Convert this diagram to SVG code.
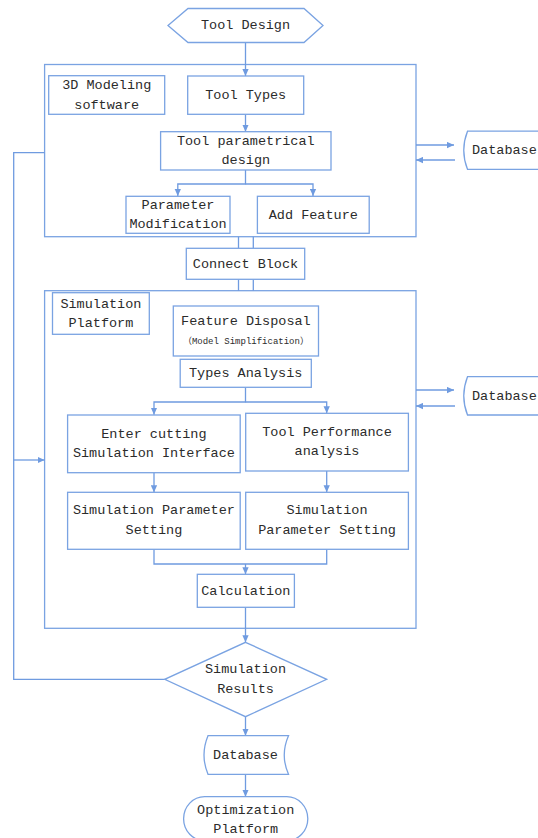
<svg xmlns="http://www.w3.org/2000/svg" width="538" height="838" viewBox="0 0 538 838">
<defs>
<marker id="ah" viewBox="0 0 10 10" refX="10" refY="5" markerWidth="7" markerHeight="7" orient="auto" markerUnits="userSpaceOnUse">
<path d="M0,0.5 L10,5 L0,9.5 z" fill="#6f9be0"/>
</marker>
<style>
.b{fill:#fff;stroke:#7aa3e2;stroke-width:1.3}
.c{fill:none;stroke:#6f9be0;stroke-width:1.3}
.a{marker-end:url(#ah)}
text{font-family:"Liberation Mono","Noto Sans CJK SC",monospace;font-size:13.5px;fill:#2b2b2b;text-anchor:middle;dominant-baseline:central}
.s{font-size:9px}
</style>
</defs>
<rect width="538" height="838" fill="#fff"/>
<g id="group1"><rect class="b" x="44.6" y="64.5" width="371.4" height="172.2"/></g>
<g id="group2"><rect class="b" x="44.6" y="290.7" width="371.4" height="337.6"/></g>
<g id="connectors">
<path class="c a" d="M245.5,42.5 V76"/>
<path class="c a" d="M245.5,114.3 V131.7"/>
<path class="c a" d="M245.5,170 V184 H177.8 V196"/>
<path class="c a" d="M245.5,184 H313 V196"/>
<path class="c" d="M238.5,236.7 V248.3 M253.3,236.7 V248.3 M238.5,279.3 V290.7 M253.3,279.3 V290.7"/>
<path class="c a" d="M245.5,387.3 V402 H154 V414.7"/>
<path class="c a" d="M245.5,402 H326.7 V413.3"/>
<path class="c a" d="M154,472.7 V492.3"/>
<path class="c a" d="M326.7,471 V492.3"/>
<path class="c" d="M154,549.3 V564 H326.7 V549.3"/>
<path class="c a" d="M245.5,564 V574.3"/>
<path class="c a" d="M245.5,607.3 V642.3"/>
<path class="c a" d="M245.5,716.7 V735.7"/>
<path class="c a" d="M245.5,774.3 V796.7"/>
<path class="c" d="M164.7,679.3 H13.7 V152.7 H44.6"/>
<path class="c a" d="M13.7,460 H44.6"/>
<path class="c a" d="M416,145 H454"/>
<path class="c a" d="M455,160 H416"/>
<path class="c a" d="M416,390 H454"/>
<path class="c a" d="M455,406 H416"/>
</g>
<g id="tool-design"><path class="b" d="M168,25.5 L188,8.5 H304 L323,25.5 L304,42.5 H188 Z"/><text x="245.5" y="25.5">Tool Design</text></g>
<g id="modeling-software"><rect class="b" x="48.7" y="75.7" width="116" height="38.6"/><text x="106.7" y="85.5">3D Modeling</text><text x="106.7" y="105">software</text></g>
<g id="tool-types"><rect class="b" x="187.7" y="76" width="116" height="38.3"/><text x="245.7" y="95.2">Tool Types</text></g>
<g id="param-design"><rect class="b" x="160.6" y="131.7" width="170.4" height="38.3"/><text x="245.8" y="141.5">Tool parametrical</text><text x="245.8" y="160.5">design</text></g>
<g id="param-mod"><rect class="b" x="126" y="196.3" width="104" height="37"/><text x="178" y="205.5">Parameter</text><text x="178" y="224.5">Modification</text></g>
<g id="add-feature"><rect class="b" x="257.4" y="196.3" width="111.8" height="37"/><text x="313.3" y="215">Add Feature</text></g>
<g id="connect-block"><rect class="b" x="186.3" y="248.3" width="118.4" height="31"/><text x="245.5" y="264">Connect Block</text></g>
<g id="sim-platform"><rect class="b" x="52.5" y="292.7" width="96.8" height="41.6"/><text x="100.9" y="304">Simulation</text><text x="100.9" y="323">Platform</text></g>
<g id="feature-disposal"><rect class="b" x="173.3" y="306" width="145.2" height="50"/><text x="245.9" y="321">Feature Disposal</text><text class="s" x="245.9" y="342.3">（Model Simplification）</text></g>
<g id="types-analysis"><rect class="b" x="180.2" y="359.3" width="131.1" height="28"/><text x="245.7" y="373.8">Types Analysis</text></g>
<g id="enter-cutting"><rect class="b" x="67.6" y="415" width="172.6" height="57.7"/><text x="153.9" y="434.2">Enter cutting</text><text x="153.9" y="453.5">Simulation Interface</text></g>
<g id="tool-performance"><rect class="b" x="245.7" y="413.3" width="162.7" height="57.7"/><text x="327" y="432">Tool Performance</text><text x="327" y="451.8">analysis</text></g>
<g id="sim-param-left"><rect class="b" x="67.6" y="492.3" width="172.6" height="57"/><text x="153.9" y="510.5">Simulation Parameter</text><text x="153.9" y="530.2">Setting</text></g>
<g id="sim-param-right"><rect class="b" x="245.7" y="492.3" width="162.7" height="57"/><text x="327" y="510.5">Simulation</text><text x="327" y="530.2">Parameter Setting</text></g>
<g id="calculation"><rect class="b" x="197.3" y="574.3" width="97.1" height="33"/><text x="245.8" y="591">Calculation</text></g>
<g id="sim-results"><path class="b" d="M245.5,642.3 L326.7,679.3 L245.5,716.7 L164.7,679.3 Z"/><text x="245.5" y="669">Simulation</text><text x="245.5" y="689">Results</text></g>
<g id="database-1"><path class="b" d="M560,131.2 H467.5 Q460,150.2 467.5,169.3 H560"/><text x="472" y="150.5" style="text-anchor:start">Database</text></g>
<g id="database-2"><path class="b" d="M560,376.7 H467.5 Q460,395.9 467.5,415 H560"/><text x="472" y="396" style="text-anchor:start">Database</text></g>
<g id="database-3"><path class="b" d="M208,735.7 H288.5 Q280,755 288.5,774.3 H208 Q200,755 208,735.7 Z"/><text x="245.5" y="755.2">Database</text></g>
<g id="optimization"><rect class="b" x="183.6" y="796.7" width="124.2" height="44" rx="21" ry="22"/><text x="245.7" y="810">Optimization</text><text x="245.7" y="829.3">Platform</text></g>
</svg>
